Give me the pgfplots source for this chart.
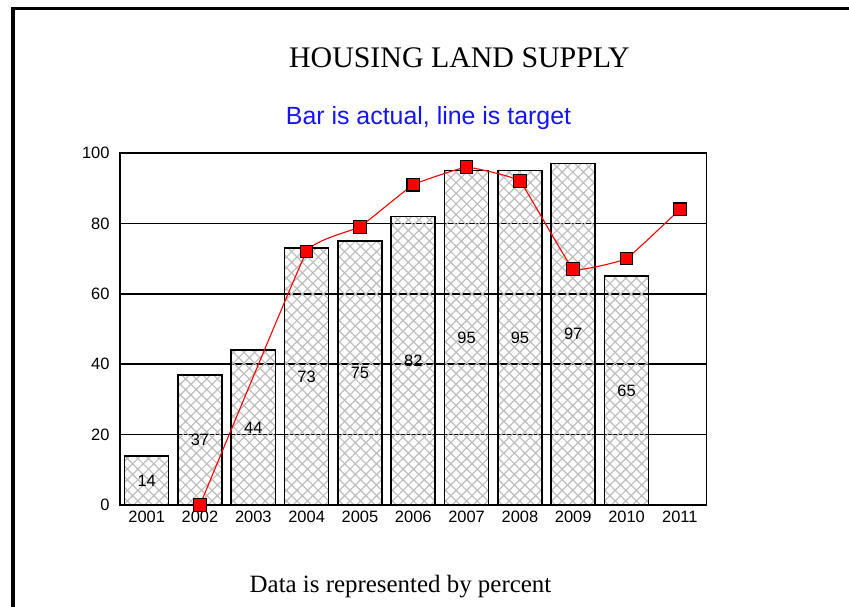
\documentclass[border=0pt]{standalone}
\usepackage{fontspec}
\setmainfont{Liberation Serif}
\setsansfont{Liberation Sans}
\usepackage{pgfplots}
\pgfplotsset{compat=1.18}
\usetikzlibrary{patterns.meta}
\definecolor{subblue}{RGB}{20,20,245}
\definecolor{hatchgray}{RGB}{190,190,190}
\begin{document}
\begin{tikzpicture}[x=1bp,y=1bp]
\useasboundingbox (0,0) rectangle (849,607);
\draw[line width=3.5bp] (13,0) -- (13,598.5) -- (849,598.5);
\node[anchor=base,font=\fontsize{30}{34}\selectfont] at (459.5,539) {HOUSING LAND SUPPLY};
\node[anchor=base,font=\sffamily\fontsize{25}{29}\selectfont,text=subblue] at (428.5,482) {Bar is actual, line is target};
\node[anchor=base,font=\fontsize{25}{29}\selectfont] at (400.5,14) {Data is represented by percent};
\coordinate (axpos) at (120,102);
\begin{axis}[
  at={(axpos)}, anchor=south west,
  scale only axis, width=586.5bp, height=352bp,
  xmin=-0.5, xmax=10.5, ymin=0, ymax=100,
  xtick={0,...,10},
  xticklabels={2001,2002,2003,2004,2005,2006,2007,2008,2009,2010,2011},
  ytick={0,20,40,60,80,100},
  major tick length=0pt,
  tick style={draw=none},
  axis line style={line width=1.8bp},
  ymajorgrids,
  major grid style={black, line width=1.6bp},
  ticklabel style={font=\sffamily\fontsize{16.5}{19}\selectfont},
  /pgf/number format/assume math mode=true,
  yticklabel style={xshift=-7bp},
  xticklabel style={yshift=-3bp},
  clip=false,
]
\addplot[ybar, bar width=44bp, bar shift=0pt, draw=black, line width=1.6bp,
  pattern={Hatch[angle=45,distance=7.5bp,line width=1.2bp]}, pattern color=hatchgray]
  table[x=x,y=y] {
x y
0 14
1 37
2 44
3 73
4 75
5 82
6 95
7 95
8 97
9 65
};
\addplot[draw=none, nodes near coords, point meta=explicit,
  every node near coord/.append style={anchor=center, font=\sffamily\fontsize{16.5}{19}\selectfont, /pgf/number format/assume math mode=true}]
  table[x=x, y expr=\thisrow{y}/2, meta=y] {
x y
0 14
1 37
2 44
3 73
4 75
5 82
6 95
7 95
8 97
9 65
};
\addplot[red, line width=1.1bp, smooth, tension=0.15, mark=square*,
  mark size=6.3bp, mark options={fill=red, draw=black, line width=1.1bp, solid}]
  table[x=x,y=y] {
x y
1 0
3 72
4 79
5 91
6 96
7 92
8 67
9 70
10 84
};
\end{axis}
\end{tikzpicture}
\end{document}
